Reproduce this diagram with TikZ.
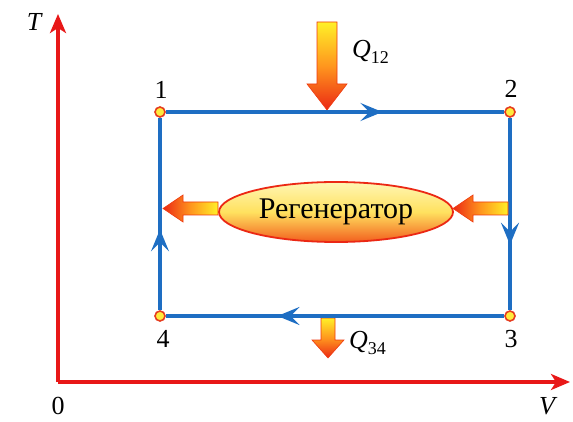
\documentclass[tikz,border=0pt]{standalone}
\usepackage{fontspec}
\setmainfont{Liberation Serif}
\usetikzlibrary{arrows.meta,decorations.markings,shapes.geometric}
\definecolor{axred}{RGB}{232,24,24}
\definecolor{cycblue}{RGB}{30,110,195}
\definecolor{ptyellow}{RGB}{255,235,60}
\definecolor{ptred}{RGB}{230,60,30}
\definecolor{gyellow}{RGB}{255,240,40}
\definecolor{gorange}{RGB}{255,150,30}
\definecolor{gred}{RGB}{235,40,20}
\definecolor{elltop}{RGB}{255,246,180}
\definecolor{ellmid}{RGB}{255,225,95}
\definecolor{ellbot}{RGB}{242,95,30}
\newcommand{\lbl}{\fontsize{26}{26}\selectfont}
\newcommand{\Qsub}[1]{\textit{Q}\raisebox{-6pt}{\fontsize{18}{18}\selectfont #1}}
\begin{document}
\begin{tikzpicture}[x=1pt,y=-1pt,
  axis/.style={draw=axred, line width=3.2pt, -{Stealth[length=19pt,width=16pt,inset=5pt]}},
  cyc/.style={draw=cycblue, line width=3.2pt},
  midarrow/.style={postaction=decorate, decoration={markings,
      mark=at position #1 with {\arrow{Stealth[length=22pt,width=18pt,inset=9pt]}}}},
  state/.style={circle, draw=ptred, fill=ptyellow, line width=1.6pt, minimum size=10pt, inner sep=0pt},
  txt/.style={font=\lbl, inner sep=0pt},
  blockv/.style={draw=gred!80!orange, line width=0.6pt, top color=gyellow, bottom color=gred, middle color=gorange},
  blockh/.style={draw=gred!80!orange, line width=0.6pt, left color=gred, right color=gyellow, middle color=gorange}
]
\useasboundingbox (0,0) rectangle (573,422);

% axes
\coordinate (O) at (58,382);
\coordinate (Ttip) at (58,14);
\coordinate (Vtip) at (570,382);
\draw[axis] (O) -- (Ttip);
\draw[axis] (O) -- (Vtip);
\node[txt, font=\lbl\itshape] (T) at (34,22) {T};
\node[txt] (zero) at (58,406) {0};
\node[txt, font=\lbl\itshape] (V) at (547,406) {V};

% Q12 arrow
\shadedraw[blockv] (317,22) -- (337,22) -- (337,84) -- (347,84) -- (327,110) -- (307,84) -- (317,84) -- cycle;
\node[txt, anchor=west] (q12) at (352,52) {\Qsub{12}};

% Q34 arrow
\shadedraw[blockv] (321,318) -- (335,318) -- (335,340) -- (344,340) -- (328,358) -- (312,340) -- (321,340) -- cycle;
\node[txt, anchor=west] (q34) at (349,343) {\Qsub{34}};

% cycle
\node[state] (p1) at (160,112) {};
\node[state] (p2) at (510,112) {};
\node[state] (p3) at (510,316) {};
\node[state] (p4) at (160,316) {};
\draw[cyc, midarrow=0.64] (p1) -- (p2);
\draw[cyc, midarrow=0.66] (p2) -- (p3);
\draw[cyc, midarrow=0.67] (p3) -- (p4);
\draw[cyc, midarrow=0.42] (p4) -- (p1);
\node[txt] (l1) at (161,90) {1};
\node[txt] (l2) at (511,89) {2};
\node[txt] (l3) at (511,339) {3};
\node[txt] (l4) at (163,339) {4};

% regenerator
\node[ellipse, minimum width=234pt, minimum height=60pt, draw=gred, line width=1.8pt,
      top color=elltop, bottom color=ellbot, middle color=ellmid,
      font=\fontsize{30}{30}\selectfont, inner sep=0pt] (reg) at (336,212) {Регенератор};

% horizontal block arrows
\shadedraw[blockh] (218,202) -- (218,215) -- (183,215) -- (183,222) -- (163,208.5) -- (183,195) -- (183,202) -- cycle;
\shadedraw[blockh] (508,202) -- (508,215) -- (473,215) -- (473,222) -- (453,208.5) -- (473,195) -- (473,202) -- cycle;
\end{tikzpicture}
\end{document}
